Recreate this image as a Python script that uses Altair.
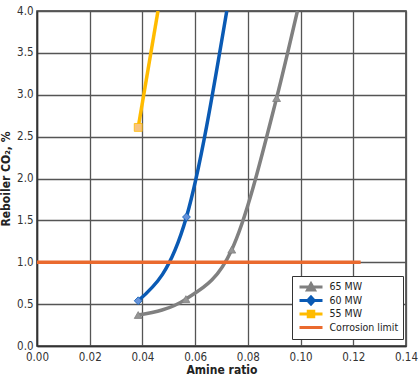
import altair as alt
import pandas as pd

FONT = "DejaVu Sans Condensed, Roboto, sans-serif"

series_names = ["65 MW", "60 MW", "55 MW", "Corrosion limit"]
line_colors = ["#808080", "#0a5ab4", "#ffbb00", "#ea6a2e"]
marker_fills = ["#959595", "#6592da", "#f8c47e", "#ea6a2e"]
marker_shapes = ["triangle-up", "diamond", "square", "circle"]
legend_shapes = [
    "M-2.3,0H2.3M0,-0.65L0.7,0.6H-0.7Z",
    "M-2.3,0H2.3M0,-0.7L0.65,0L0,0.7L-0.65,0Z",
    "M-2.3,0H2.3M-0.55,-0.55H0.55V0.55H-0.55Z",
    "M-2.3,0H2.3",
]
legend_fills = ["#959595", "#6592da", "#f8c47e", "transparent"]

# amine ratio / reboiler CO2 values (last value = where the curve leaves the top)
amine_65 = [0.0384, 0.0565, 0.0739, 0.0909, 0.0988]
co2_65 = [0.37, 0.56, 1.15, 2.96, 4.0]
amine_60 = [0.0384, 0.0567, 0.0720]
co2_60 = [0.54, 1.54, 4.0]
amine_55 = [0.0384, 0.0459]
co2_55 = [2.61, 4.0]
amine_lim = [0.0, 0.1228]
co2_lim = [1.0, 1.0]

n_markers = {"65 MW": 4, "60 MW": 2, "55 MW": 1, "Corrosion limit": 0}

rows = []
for name, xs, ys in [("65 MW", amine_65, co2_65), ("60 MW", amine_60, co2_60),
                     ("55 MW", amine_55, co2_55), ("Corrosion limit", amine_lim, co2_lim)]:
    for i, (x, y) in enumerate(zip(xs, ys)):
        rows.append({"series": name, "x": x, "y": y, "i": i, "marker": i < n_markers[name]})
df = pd.DataFrame(rows)

legend = alt.Legend(
    title=None, orient="none", legendX=255, legendY=265,
    fillColor="white", strokeColor="#333", padding=4.5,
    labelFont=FONT, labelFontSize=10.5, labelColor="#222",
    symbolSize=100, symbolStrokeWidth=3, rowPadding=0.5, clipHeight=13,
    symbolOffset=8, labelOffset=12, symbolOpacity=1,
)

xscale = alt.Scale(domain=[0, 0.14], nice=False)
yscale = alt.Scale(domain=[0, 4], nice=False)

xenc = alt.X("x:Q", scale=xscale, title="Amine ratio",
             axis=alt.Axis(values=[0, 0.02, 0.04, 0.06, 0.08, 0.10, 0.12, 0.14], format=".2f"))
yenc = alt.Y("y:Q", scale=yscale, title="Reboiler CO₂, %",
             axis=alt.Axis(values=[0, 0.5, 1, 1.5, 2, 2.5, 3, 3.5, 4], format=".1f"))

base = alt.Chart(df)
color_scale = alt.Scale(domain=series_names, range=line_colors)

lines = base.mark_line(strokeWidth=3.5, interpolate="monotone", clip=True).encode(
    x=xenc, y=yenc,
    color=alt.Color("series:N", scale=color_scale, legend=legend),
    order="i:Q",
)

# invisible layer that only supplies the legend symbols (line + marker)
legend_layer = base.mark_point(size=100, strokeWidth=3, opacity=0, filled=False).encode(
    x=xenc, y=yenc,
    color=alt.Color("series:N", scale=color_scale, legend=legend),
    fill=alt.Fill("series:N", scale=alt.Scale(domain=series_names, range=legend_fills), legend=legend),
    shape=alt.Shape("series:N", scale=alt.Scale(domain=series_names, range=legend_shapes), legend=legend),
)

point_layers = []
for name, shape, fill, stroke in zip(series_names[:3], marker_shapes, marker_fills, line_colors):
    point_layers.append(
        base.transform_filter(f"datum.marker && datum.series === '{name}'").mark_point(
            shape=shape, filled=True, size=62, opacity=1, fill=fill, stroke=stroke,
            strokeWidth=0.8, clip=True,
        ).encode(x=xenc, y=yenc)
    )

chart = alt.layer(lines, *point_layers, legend_layer).properties(
    width=369, height=335,
    autosize=alt.AutoSizeParams(type="none"),
    padding={"left": 37, "top": 11, "right": 14, "bottom": 32},
    background="white",
).configure_view(stroke="#333", strokeWidth=1.5).configure_axis(
    grid=True, gridColor="#555", gridWidth=1.3, gridOpacity=1,
    domain=True, domainColor="#333", domainWidth=1.5, labelFlush=False,
    ticks=False, labelFont=FONT, labelFontSize=11.5, labelColor="#333", labelPadding=4,
    titleFont=FONT, titleFontSize=12, titleFontWeight="bold", titleColor="#222",
).configure_axisX(titlePadding=2, labelPadding=5).configure_axisY(titlePadding=4)

chart.save("out.html", embed_options={"renderer": "svg", "actions": False})
